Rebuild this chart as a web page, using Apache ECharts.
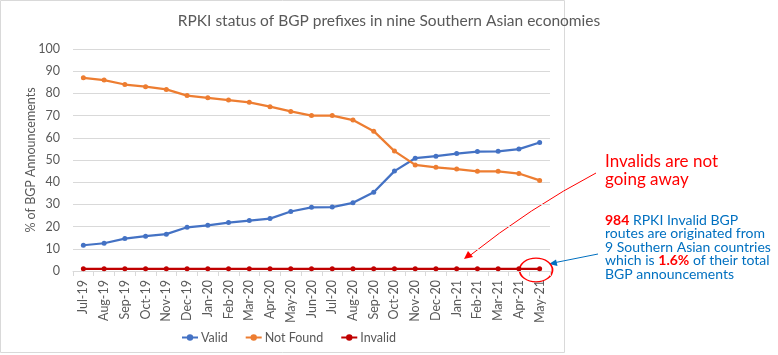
<!DOCTYPE html>
<html><head><meta charset="utf-8">
<script src="https://cdn.jsdelivr.net/npm/echarts@6/dist/echarts.min.js"></script>
<style>html,body{margin:0;padding:0;background:#fff}#c{width:778px;height:355px}</style>
</head><body><div id="c"></div>
<script>
const months = ["Jul-19","Aug-19","Sep-19","Oct-19","Nov-19","Dec-19","Jan-20","Feb-20","Mar-20","Apr-20","May-20","Jun-20","Jul-20","Aug-20","Sep-20","Oct-20","Nov-20","Dec-20","Jan-21","Feb-21","Mar-21","Apr-21","May-21"];
const valid = [11.6,12.5,14.6,15.7,16.6,19.7,20.6,21.8,22.7,23.6,26.8,28.7,28.8,30.7,35.5,45,50.8,51.7,52.9,53.8,53.9,54.9,57.9];
const notFound = [87,86,84,83,81.8,79,78,77,76,74,71.9,70,70,68,63,54,47.8,46.7,45.9,44.9,44.9,43.9,40.8];
const invalid = [1,1,1,1,1,1,1,1,1,1,1,1,1,1,1,1,1,1,1,1,1,1,1];
const yTicks = {min:0, max:100, interval:10};

const FONT = 'Lato';
const chart = echarts.init(document.getElementById('c'));
function mk(name, data, color){
  return {name, type:'line', data, symbol:'circle', symbolSize:5,
    lineStyle:{color, width:2.25}, itemStyle:{color}, emphasis:{disabled:true}};
}
chart.setOption({
  animation:false,
  textStyle:{fontFamily:FONT},
  title:{text:'RPKI status of BGP prefixes in nine Southern Asian economies', left:'center', top:8,
    textStyle:{fontFamily:FONT, fontSize:15.5, fontWeight:'normal', color:'#595959'}},
  grid:{left:73, right:228, top:49, bottom:84},
  legend:{bottom:6, left:176, orient:'horizontal', itemGap:17, itemWidth:16, itemHeight:8,
    textStyle:{fontFamily:FONT, fontSize:12.5, color:'#595959', padding:[0,0,0,-2]},
    data:['Valid','Not Found','Invalid']},
  xAxis:{type:'category', data:months, boundaryGap:true,
    axisLine:{lineStyle:{color:'#D9D9D9'}},
    axisTick:{show:true, length:5, lineStyle:{color:'#D9D9D9'}},
    axisLabel:{rotate:90, color:'#595959', fontSize:12.5, fontFamily:FONT, margin:9, interval:0}},
  yAxis:{type:'value', min:yTicks.min, max:yTicks.max, interval:yTicks.interval,
    name:'% of BGP Announcements', nameLocation:'middle', nameGap:36, nameRotate:90, nameMoveOverlap:false,
    nameTextStyle:{fontFamily:FONT, fontSize:12.5, color:'#595959'},
    axisLine:{show:false}, axisTick:{show:false},
    axisLabel:{color:'#595959', fontSize:12.5, fontFamily:FONT, margin:13},
    splitLine:{lineStyle:{color:'#D9D9D9', width:1}}},
  series:[mk('Valid', valid, '#4472C4'), mk('Not Found', notFound, '#ED7D31'), mk('Invalid', invalid, '#C00000')],
  graphic:[
    {type:'rect', shape:{x:0.5, y:0.5, width:564, height:352}, style:{fill:null, stroke:'#D9D9D9', lineWidth:1}, z:-1},
    {type:'text', left:605, top:153, style:{text:'Invalids are not\ngoing away', fill:'#FF0000', font:'17px Lato', lineHeight:18}},
    {type:'text', left:605, top:213, style:{
      text:'{r|984} RPKI Invalid BGP\nroutes are originated from\n9 Southern Asian countries\nwhich is {r|1.6%} of their total\nBGP announcements',
      fill:'#0070C0', font:'14px Lato', lineHeight:13.5,
      rich:{r:{fill:'#FF0000', fontWeight:'bold', fontSize:14, fontFamily:FONT, lineHeight:13.5}}}},
    {type:'bezierCurve', shape:{x1:596, y1:173, x2:468, y2:257, cpx1:531, cpy1:207}, style:{stroke:'#FF0000', lineWidth:1, fill:null}},
    {type:'polygon', shape:{points:[[464,259],[473,257],[468,251]]}, style:{fill:'#FF0000'}},
    {type:'line', shape:{x1:598, y1:254, x2:553, y2:263}, style:{stroke:'#0070C0', lineWidth:1}},
    {type:'polygon', shape:{points:[[549,264],[556,259.5],[557.5,266]]}, style:{fill:'#0070C0'}},
    {type:'circle', x:536, y:270, scaleX:1, scaleY:0.72, shape:{cx:0, cy:0, r:16.5}, style:{fill:null, stroke:'#FF0000', lineWidth:1.8}}
  ]
});
</script></body></html>
